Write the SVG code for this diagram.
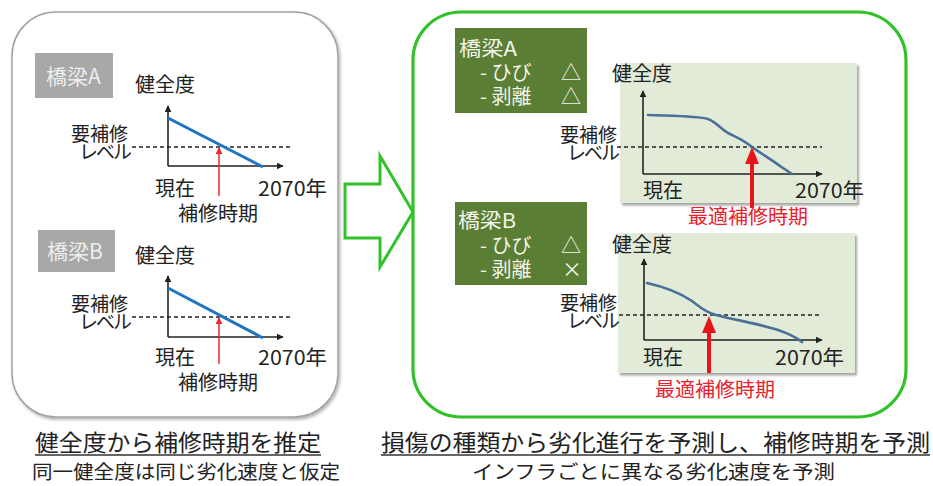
<svg xmlns="http://www.w3.org/2000/svg" width="933" height="486" viewBox="0 0 933 486">
<defs>
  <style>
    text { font-family: "Noto Sans CJK JP", "Noto Sans", sans-serif; }
    .t { font-size: 20px; fill: #222; }
    .lv { font-size: 19px; fill: #222; }
    .lbl { font-size: 21px; fill: #eeeeee; }
    .glbl { font-size: 20px; fill: #f4f4ec; }
    .red { font-size: 20px; fill: #e8222c; }
    .axis { stroke: #222; stroke-width: 1.6; fill: none; }
    .dash { stroke: #222; stroke-width: 1.6; stroke-dasharray: 4 3; fill: none; }
    .blue { stroke: #1f74c4; stroke-width: 3; fill: none; }
    .curve { stroke: #4a6f99; stroke-width: 2.6; fill: none; stroke-linecap: round; }
    .thinred { stroke: #f0262c; stroke-width: 1.5; fill: none; }
    .thickred { stroke: #e8141c; stroke-width: 4; fill: none; }
    .cap { font-size: 23px; fill: #222; }
    .sub { font-size: 19.5px; fill: #222; }
    .chartbg { fill: #e2ebd7; }
    .gbox { fill: #5a7e33; }
    .graybox { fill: #a8a8a8; }
  </style>
  <marker id="ah" viewBox="0 0 10 10" refX="9" refY="5" markerWidth="7" markerHeight="7" markerUnits="userSpaceOnUse" orient="auto">
    <path d="M0,0 L10,5 L0,10 z" fill="#222"/>
  </marker>
  <marker id="ahr" viewBox="0 0 10 10" refX="9" refY="5" markerWidth="7" markerHeight="8" markerUnits="userSpaceOnUse" orient="auto">
    <path d="M0,0 L10,5 L0,10 z" fill="#f0262c"/>
  </marker>
  <filter id="sh" x="-10%" y="-10%" width="120%" height="120%">
    <feDropShadow dx="1.5" dy="2" stdDeviation="1.5" flood-color="#000" flood-opacity="0.3"/>
  </filter>
  <filter id="sh2" x="-10%" y="-10%" width="120%" height="125%">
    <feDropShadow dx="2" dy="2.5" stdDeviation="1.2" flood-color="#000" flood-opacity="0.35"/>
  </filter>
</defs>
<rect width="933" height="486" fill="#ffffff"/>

<!-- Left panel -->
<g id="left-panel">
  <rect x="12" y="12" width="326" height="405" rx="44" ry="44" fill="#ffffff" stroke="#a2a2a2" stroke-width="1.5" filter="url(#sh)"/>
</g>

<!-- Left chart A -->
<g id="left-bridge-a">
  <rect class="graybox" x="35" y="53" width="78" height="45"/>
  <text class="lbl" x="46" y="84">橋梁A</text>
  <text class="t" x="135" y="92">健全度</text>
  <line class="axis" x1="168" y1="166" x2="168" y2="106" marker-end="url(#ah)"/>
  <line class="axis" x1="168" y1="166" x2="283" y2="166" marker-end="url(#ah)"/>
  <line class="dash" x1="132" y1="147" x2="293" y2="147"/>
  <line class="blue" x1="168" y1="118" x2="263" y2="167"/>
  <line class="thinred" x1="219" y1="196" x2="219" y2="148" marker-end="url(#ahr)"/>
  <text class="lv" text-anchor="end"><tspan x="128" y="141">要補修</tspan><tspan x="130" y="159" letter-spacing="-2">レベル</tspan></text>
  <text class="t" x="155" y="196">現在</text>
  <text class="t" x="258" y="196" textLength="69" lengthAdjust="spacingAndGlyphs">2070年</text>
  <text class="t" x="178" y="221">補修時期</text>
</g>

<!-- Left chart B -->
<g id="left-bridge-b">
  <rect class="graybox" x="38" y="230" width="77" height="42"/>
  <text class="lbl" x="47" y="259">橋梁B</text>
  <text class="t" x="135" y="263">健全度</text>
  <line class="axis" x1="168" y1="337" x2="168" y2="276" marker-end="url(#ah)"/>
  <line class="axis" x1="168" y1="337" x2="283" y2="337" marker-end="url(#ah)"/>
  <line class="dash" x1="132" y1="317" x2="293" y2="317"/>
  <line class="blue" x1="168" y1="288" x2="263" y2="338"/>
  <line class="thinred" x1="219" y1="364" x2="219" y2="318" marker-end="url(#ahr)"/>
  <text class="lv" text-anchor="end"><tspan x="128" y="311">要補修</tspan><tspan x="130" y="329" letter-spacing="-2">レベル</tspan></text>
  <text class="t" x="155" y="365">現在</text>
  <text class="t" x="258" y="365" textLength="69" lengthAdjust="spacingAndGlyphs">2070年</text>
  <text class="t" x="178" y="390">補修時期</text>
</g>

<!-- Connectors -->
<g id="connectors">
  <path d="M345,184 L380,184 L380,156 L413,212 L380,267 L380,238 L345,238 Z" fill="#ffffff" stroke="#33c12a" stroke-width="3" stroke-linejoin="miter"/>
</g>

<!-- Right panel -->
<g id="right-panel">
  <rect x="413" y="12" width="493" height="405" rx="48" ry="48" fill="#ffffff" stroke="#33c12a" stroke-width="3.2"/>
</g>

<!-- Right bridge A -->
<g id="right-bridge-a">
  <rect class="gbox" x="455" y="28" width="132" height="85"/>
  <text class="glbl" x="459" y="56" textLength="58" lengthAdjust="spacingAndGlyphs">橋梁A</text>
  <text class="glbl" x="480" y="80">- ひび</text>
  <text class="glbl" x="561" y="80">△</text>
  <text class="glbl" x="480" y="104">- 剥離</text>
  <text class="glbl" x="561" y="104">△</text>

  <rect class="chartbg" x="620" y="63" width="237" height="140" filter="url(#sh2)"/>
  <text class="t" x="612" y="81">健全度</text>
  <line class="axis" x1="643" y1="174" x2="643" y2="91" marker-end="url(#ah)"/>
  <line class="axis" x1="643" y1="174" x2="822" y2="174" marker-end="url(#ah)"/>
  <line class="dash" x1="617" y1="147" x2="822" y2="147"/>
  <path class="curve" d="M648,115 C675,116 698,116 708,119 C716,122 720,128 728,133 C736,137 744,140 752,147 C762,154 772,160 780,166 L792,174"/>
  <line class="thickred" x1="752" y1="208" x2="752" y2="162"/>
  <polygon points="752,147 745,164 759,164" fill="#e8141c"/>
  <text class="lv" text-anchor="end"><tspan x="617" y="142">要補修</tspan><tspan x="618" y="160" letter-spacing="-2">レベル</tspan></text>
  <text class="t" x="643" y="198">現在</text>
  <text class="t" x="795" y="198" textLength="69" lengthAdjust="spacingAndGlyphs">2070年</text>
  <text class="red" x="688" y="224">最適補修時期</text>
</g>

<!-- Right bridge B -->
<g id="right-bridge-b">
  <rect class="gbox" x="455" y="202" width="132" height="83"/>
  <text class="glbl" x="458" y="228" textLength="58" lengthAdjust="spacingAndGlyphs">橋梁B</text>
  <text class="glbl" x="480" y="253">- ひび</text>
  <text class="glbl" x="561" y="253">△</text>
  <text class="glbl" x="480" y="277">- 剥離</text>
  <text class="glbl" x="562" y="277">×</text>

  <rect class="chartbg" x="618" y="233" width="237" height="140" filter="url(#sh2)"/>
  <text class="t" x="612" y="252">健全度</text>
  <line class="axis" x1="644" y1="340" x2="644" y2="259" marker-end="url(#ah)"/>
  <line class="axis" x1="644" y1="340" x2="822" y2="340" marker-end="url(#ah)"/>
  <line class="dash" x1="619" y1="315" x2="822" y2="315"/>
  <path class="curve" d="M647,283 C665,287 680,293 692,301 C700,307 705,312 716,315 C735,320 760,324 778,330 C790,334 797,338 802,342"/>
  <line class="thickred" x1="709" y1="373" x2="709" y2="331"/>
  <polygon points="709,316 702,333 716,333" fill="#e8141c"/>
  <text class="lv" text-anchor="end"><tspan x="617" y="310">要補修</tspan><tspan x="618" y="328" letter-spacing="-2">レベル</tspan></text>
  <text class="t" x="643" y="365">現在</text>
  <text class="t" x="775" y="365" textLength="69" lengthAdjust="spacingAndGlyphs">2070年</text>
  <text class="red" x="655" y="397">最適補修時期</text>
</g>

<!-- Captions -->
<g id="captions">
  <text class="cap" x="35" y="451" textLength="286" lengthAdjust="spacingAndGlyphs">健全度から補修時期を推定</text>
  <line x1="35" y1="455" x2="321" y2="455" stroke="#333" stroke-width="1.3"/>
  <text class="sub" x="32" y="479" textLength="308" lengthAdjust="spacingAndGlyphs">同一健全度は同じ劣化速度と仮定</text>
  <text class="cap" x="381" y="451" textLength="549" lengthAdjust="spacingAndGlyphs">損傷の種類から劣化進行を予測し、補修時期を予測</text>
  <line x1="381" y1="455" x2="930" y2="455" stroke="#333" stroke-width="1.3"/>
  <text class="sub" x="472" y="479" textLength="363" lengthAdjust="spacingAndGlyphs">インフラごとに異なる劣化速度を予測</text>
</g>
</svg>
